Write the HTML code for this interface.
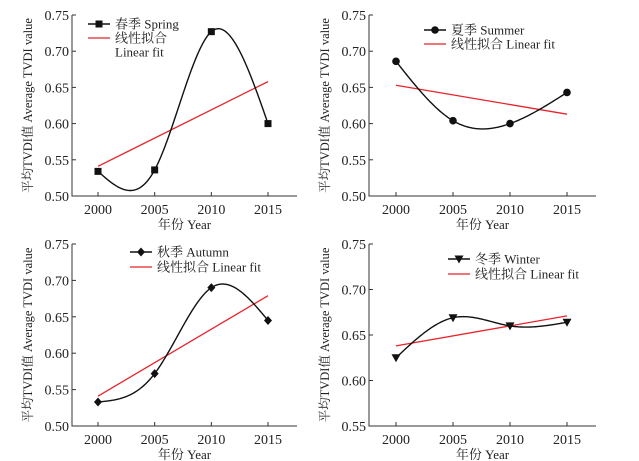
<!DOCTYPE html>
<html><head><meta charset="utf-8"><style>
body{margin:0;background:#fff;width:639px;height:461px;overflow:hidden}
svg{display:block}
text{font-family:"Liberation Serif","Noto Serif CJK SC",serif;fill:#222}
</style></head><body>
<svg id="c" width="639" height="461"></svg>
<script>
const years=[2000,2005,2010,2015];
const springVals=[0.534,0.536,0.727,0.600];
const springFit=[0.541,0.658];
const summerVals=[0.686,0.604,0.600,0.643];
const summerFit=[0.653,0.613];
const autumnVals=[0.533,0.572,0.690,0.645];
const autumnFit=[0.541,0.679];
const winterVals=[0.625,0.669,0.660,0.664];
const winterFit=[0.638,0.671];
const ticksA=[0.50,0.55,0.60,0.65,0.70,0.75];
const ticksB=[0.55,0.60,0.65,0.70,0.75];
const xTicks=[2000,2005,2010,2015];

const NS="http://www.w3.org/2000/svg";
const svg=document.getElementById('c');
function mk(tag,attrs,parent){const e=document.createElementNS(NS,tag);for(const k in attrs)e.setAttribute(k,attrs[k]);(parent||svg).appendChild(e);return e;}

function spline(xs,ys){
  const n=xs.length,h=[],al=[],l=[1],mu=[0],z=[0],c=new Array(n).fill(0),b=[],d=[];
  for(let i=0;i<n-1;i++)h.push(xs[i+1]-xs[i]);
  for(let i=1;i<n-1;i++)al[i]=3/h[i]*(ys[i+1]-ys[i])-3/h[i-1]*(ys[i]-ys[i-1]);
  for(let i=1;i<n-1;i++){l[i]=2*(xs[i+1]-xs[i-1])-h[i-1]*mu[i-1];mu[i]=h[i]/l[i];z[i]=(al[i]-h[i-1]*z[i-1])/l[i];}
  l[n-1]=1;z[n-1]=0;
  for(let j=n-2;j>=0;j--){c[j]=z[j]-mu[j]*c[j+1];b[j]=(ys[j+1]-ys[j])/h[j]-h[j]*(c[j+1]+2*c[j])/3;d[j]=(c[j+1]-c[j])/(3*h[j]);}
  return x=>{let j=Math.min(n-2,Math.max(0,xs.findIndex((v,i)=>i<n-1&&x<=xs[i+1])));if(j<0)j=n-2;const t=x-xs[j];return ys[j]+b[j]*t+c[j]*t*t+d[j]*t*t*t;};
}

function marker(g,type,x,y){
  if(type==='square')mk('rect',{x:x-3.5,y:y-3.5,width:7,height:7,fill:'#111'},g);
  else if(type==='circle')mk('circle',{cx:x,cy:y,r:3.8,fill:'#111'},g);
  else if(type==='diamond')mk('polygon',{points:`${x},${y-4.5} ${x+4},${y} ${x},${y+4.5} ${x-4},${y}`,fill:'#111'},g);
  else mk('polygon',{points:`${x-4.5},${y-3.5} ${x+4.5},${y-3.5} ${x},${y+4.5}`,fill:'#111'},g);
}

function panel(o){
  const g=mk('g',{});
  
  
  const ymin=o.ticks[0],ymax=o.ticks[o.ticks.length-1];
  const X=v=>o.x0+(v-2000)/15*(o.x1-o.x0);
  const Y=v=>o.yb-(v-ymin)/(ymax-ymin)*(o.yb-o.yt);
  const ax=mk('path',{d:`M${o.ax},${o.yt}V${o.yb}H${o.axEnd}`,stroke:'#333','stroke-width':1,fill:'none'},g);
  
  o.ticks.forEach(t=>{const y=Y(t);mk('line',{x1:o.ax,x2:o.ax+4,y1:y,y2:y,stroke:'#333'},g);
    const tx=mk('text',{x:o.ax-3,y:y+5,'text-anchor':'end','font-size':14},g);tx.textContent=t.toFixed(2);
    });
  xTicks.forEach(t=>{const x=X(t);mk('line',{x1:x,x2:x,y1:o.yb,y2:o.yb-4,stroke:'#333'},g);
    const tx=mk('text',{x:x,y:o.yb+18,'text-anchor':'middle','font-size':14},g);tx.textContent=t;
    });
  const xt=mk('text',{x:(o.ax+o.axEnd)/2,y:o.yb+33,'text-anchor':'middle','font-size':13},g);xt.textContent='年份 Year';
  
  const cy=(o.yt+o.yb)/2,cx=o.ax-40;
  const yt=mk('text',{x:cx,y:cy,'text-anchor':'middle','font-size':12.5,transform:`rotate(-90 ${cx} ${cy})`},g);yt.textContent='平均TVDI值 Average TVDI value';
  
  const fl=mk('line',{x1:X(2000),y1:Y(o.fit[0]),x2:X(2015),y2:Y(o.fit[1]),stroke:'#e8232a','stroke-width':1.3},g);
  
  const f=spline(years,o.vals);let d='';
  for(let yr=2000;yr<=2015.001;yr+=0.1){d+=(d?'L':'M')+X(yr).toFixed(2)+','+Y(f(yr)).toFixed(2);}
  const cp=mk('path',{d:d,stroke:'#111','stroke-width':1.4,fill:'none'},g);
  
  o.vals.forEach((v,i)=>marker(g,o.mk,X(years[i]),Y(v)));
  const L=o.leg;
  const lg=mk('g',{},g);
  mk('line',{x1:L.x,x2:L.x+22,y1:L.y,y2:L.y,stroke:'#111','stroke-width':1.4},lg);marker(lg,o.mk,L.x+11,L.y);
  let t1=mk('text',{x:L.x+27,y:L.y+4.5,'font-size':13},lg);t1.textContent=o.label;
  mk('line',{x1:L.x,x2:L.x+22,y1:L.y+L.dy,y2:L.y+L.dy,stroke:'#e8232a','stroke-width':1.3},lg);
  if(L.split){let a=mk('text',{x:L.x+27,y:L.y+L.dy+4.5,'font-size':13},lg);a.textContent='线性拟合';
    let b=mk('text',{x:L.x+27,y:L.y+2*L.dy+4.5,'font-size':13},lg);b.textContent='Linear fit';}
  else{let a=mk('text',{x:L.x+27,y:L.y+L.dy+4.5,'font-size':13},lg);a.textContent='线性拟合 Linear fit';}
}
panel({name:'spring',vals:springVals,fit:springFit,ticks:ticksA,mk:'square',label:'春季 Spring',ax:72,axEnd:297,x0:98,x1:268,yt:15,yb:196,leg:{x:88,y:24,dy:14,split:true}});
panel({name:'summer',vals:summerVals,fit:summerFit,ticks:ticksA,mk:'circle',label:'夏季 Summer',ax:369,axEnd:596,x0:396,x1:567,yt:15,yb:196,leg:{x:424,y:30,dy:14,split:false}});
panel({name:'autumn',vals:autumnVals,fit:autumnFit,ticks:ticksA,mk:'diamond',label:'秋季 Autumn',ax:72,axEnd:297,x0:98,x1:268,yt:244,yb:426,leg:{x:130,y:252,dy:15,split:false}});
panel({name:'winter',vals:winterVals,fit:winterFit,ticks:ticksB,mk:'triangle',label:'冬季 Winter',ax:369,axEnd:596,x0:396,x1:567,yt:244,yb:426,leg:{x:448,y:259,dy:15,split:false}});
</script>
</body></html>
